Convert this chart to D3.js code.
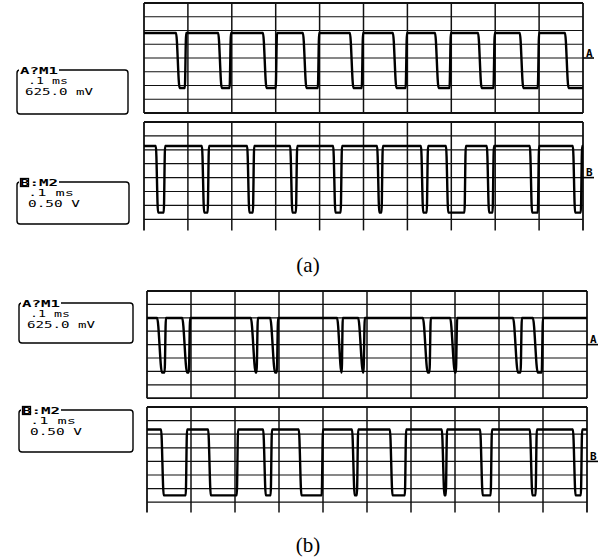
<!DOCTYPE html>
<html>
<head>
<meta charset="utf-8">
<script src="https://cdn.jsdelivr.net/npm/d3@7"></script>
<style>
  body { margin: 0; background: #fff; }
  svg { display: block; }
</style>
</head>
<body>
<div id="chart"></div>
<script>
// 10 time divisions (.1 ms each), 8 vertical divisions per channel
const timeDivs = d3.range(0, 11);
const voltDivs = d3.range(-4, 5);

// low pulses as [fall, rise] in time divisions (null = still low at the end)
const aM1Pulses = [[0.73, 0.96], [1.69, 1.98], [2.71, 3.03], [3.62, 3.99], [4.69, 4.99],
  [5.67, 5.99], [6.63, 6.99], [7.61, 7.99], [8.56, 9.00], [9.59, null]];
const aM2Pulses = [[0.27, 0.48], [1.32, 1.48], [2.35, 2.51], [3.33, 3.49], [4.31, 4.51],
  [5.31, 5.44], [6.31, 6.47], [6.88, 7.33], [7.81, 7.97], [8.79, 9.00], [9.77, 9.98]];
const bM1Pulses = [[0.23, 0.43], [0.80, 0.98], [2.36, 2.52], [2.80, 2.98], [4.32, 4.45],
  [4.80, 4.95], [6.27, 6.45], [6.89, 7.05], [8.32, 8.52], [8.77, 9.00]];
const bM2Pulses = [[0.32, 0.91], [1.39, 2.07], [2.64, 2.84], [3.45, 4.00], [4.66, 4.80],
  [5.52, 5.89], [6.70, 6.82], [7.57, 7.84], [8.70, 8.86], [9.68, 9.89]];

// [high, low] levels in divisions from the channel centre line
const aM1Levels = [1.82, -2.18];
const aM2Levels = [2.27, -2.52];
const bM1Levels = [1.98, -2.09];
const bM2Levels = [2.35, -2.50];

// label texts
const m1Label = ["A?M1", ".1 ms", "625.0 mV"];
const m2Label = ["B:M2", ".1 ms", "0.50 V"];
const captions = ["(a)", "(b)"];

const svg = d3.select("#chart").append("svg")
  .attr("width", 602)
  .attr("height", 560);

// screen layout
const screens = [
  { x0: 144, x1: 583, top: 3, h: 13.75, cut: null, pulses: aM1Pulses, levels: aM1Levels, edge: 0.08, mark: "A",
    box: { x: 17, y: 70, w: 111, hh: 44 }, label: m1Label },
  { x0: 144, x1: 583, top: 122, h: 13.9, cut: -3.8, pulses: aM2Pulses, levels: aM2Levels, edge: 0.05, mark: "B",
    box: { x: 17, y: 182, w: 112, hh: 42 }, label: m2Label },
  { x0: 147, x1: 587, top: 291, h: 13.4, cut: null, pulses: bM1Pulses, levels: bM1Levels, edge: 0.11, mark: "A",
    box: { x: 19, y: 303, w: 114, hh: 40 }, label: m1Label },
  { x0: 147, x1: 587, top: 407, h: 13.6, cut: -3.75, pulses: bM2Pulses, levels: bM2Levels, edge: 0.06, mark: "B",
    box: { x: 19, y: 410, w: 114, hh: 42 }, label: m2Label }
];

function tracePoints(pulses, levels, edge) {
  const [hi, lo] = levels;
  const pts = [[0, hi]];
  pulses.forEach(([f, r]) => {
    pts.push([f, hi]);
    if (r == null) {
      pts.push([f + edge, lo]);
      pts.push([10, lo]);
      return;
    }
    const bottom = Math.min(f + edge, r - 0.03);
    pts.push([bottom, lo]);
    pts.push([Math.max(bottom + 0.005, r - 0.03), lo]);
    pts.push([r, hi]);
  });
  const last = pulses[pulses.length - 1];
  if (last[1] != null) pts.push([10, hi]);
  return pts;
}

screens.forEach(s => {
  const x = d3.scaleLinear().domain([0, 10]).range([s.x0, s.x1]);
  const y = d3.scaleLinear().domain([-4, 4]).range([s.top + 8 * s.h, s.top]);
  const g = svg.append("g");
  const yEnd = s.cut == null ? y(-4) : y(s.cut);

  // horizontal grid
  g.selectAll("line.h")
    .data(voltDivs.filter(d => s.cut == null || d > -4))
    .enter().append("line")
    .attr("x1", s.x0).attr("x2", s.x1)
    .attr("y1", d => y(d)).attr("y2", d => y(d))
    .attr("stroke", "#111")
    .attr("stroke-width", d => (d === 4 || d === -4) ? 1.8 : 1.2);

  // vertical grid
  g.selectAll("line.v")
    .data(timeDivs)
    .enter().append("line")
    .attr("x1", d => x(d)).attr("x2", d => x(d))
    .attr("y1", y(4)).attr("y2", yEnd)
    .attr("stroke", "#111")
    .attr("stroke-width", d => (d === 0 || d === 10) ? 1.8 : 1.5);

  // trace
  const line = d3.line()
    .x(d => x(d[0]))
    .y(d => y(d[1]))
    .curve(d3.curveMonotoneX);
  g.append("path")
    .datum(tracePoints(s.pulses, s.levels, s.edge))
    .attr("fill", "none")
    .attr("stroke", "#000")
    .attr("stroke-width", 2.4)
    .attr("stroke-linejoin", "round")
    .attr("d", line);

  // channel marker on the right
  g.append("line")
    .attr("x1", s.x1).attr("x2", s.x1 + 11)
    .attr("y1", y(0)).attr("y2", y(0))
    .attr("stroke", "#000").attr("stroke-width", 1.6);
  g.append("text")
    .attr("x", s.x1 + 3).attr("y", y(0) - 1.5)
    .attr("font-family", "DejaVu Sans Mono")
    .attr("font-weight", "bold")
    .attr("font-size", 11)
    .text(s.mark);

  // label box
  const b = s.box;
  const lb = svg.append("g").attr("transform", `translate(${b.x},${b.y})`);
  lb.append("rect")
    .attr("width", b.w).attr("height", b.hh)
    .attr("rx", 3)
    .attr("fill", "none")
    .attr("stroke", "#000")
    .attr("stroke-width", 1.4);
  lb.append("rect")
    .attr("x", 2).attr("y", -5).attr("width", 40).attr("height", 9)
    .attr("fill", "#fff");
  if (s.mark === "B") {
    lb.append("rect")
      .attr("x", 3.5).attr("y", -3.5).attr("width", 8).attr("height", 8)
      .attr("fill", "none").attr("stroke", "#000").attr("stroke-width", 1.3);
  }
  lb.append("text")
    .attr("x", 3).attr("y", 3.5)
    .attr("font-family", "DejaVu Sans Mono")
    .attr("font-weight", "bold")
    .attr("font-size", 9)
    .attr("textLength", 38)
    .attr("lengthAdjust", "spacingAndGlyphs")
    .text(s.label[0]);
  lb.append("text")
    .attr("x", 11).attr("y", 14)
    .attr("font-family", "DejaVu Sans Mono")
    .attr("font-size", 9)
    .attr("textLength", s.mark === "A" ? 40 : 46)
    .attr("lengthAdjust", "spacingAndGlyphs")
    .text(s.label[1]);
  lb.append("text")
    .attr("x", s.mark === "A" ? 8 : 11).attr("y", 25)
    .attr("font-family", "DejaVu Sans Mono")
    .attr("font-size", 9.5)
    .attr("textLength", s.mark === "A" ? 68 : 52)
    .attr("lengthAdjust", "spacingAndGlyphs")
    .text(s.label[2]);
});

// captions
svg.selectAll("text.caption")
  .data(captions)
  .enter().append("text")
  .attr("class", "caption")
  .attr("x", 308)
  .attr("y", (d, i) => i === 0 ? 272 : 552)
  .attr("text-anchor", "middle")
  .attr("font-family", "Liberation Serif")
  .attr("font-size", 21)
  .text(d => d);
</script>
</body>
</html>
